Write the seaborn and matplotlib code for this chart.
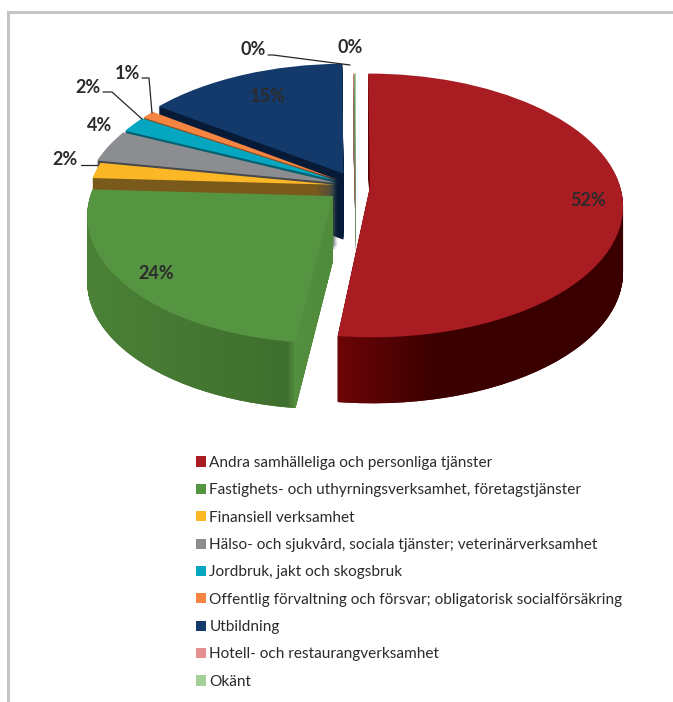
import matplotlib
matplotlib.use('Agg')
import matplotlib.pyplot as plt
from matplotlib.colors import LinearSegmentedColormap
from matplotlib.path import Path
from matplotlib.transforms import IdentityTransform, Transform
import numpy as np
import seaborn as sns

labels = ['Andra samhälleliga och personliga tjänster',
          'Fastighets- och uthyrningsverksamhet, företagstjänster',
          'Finansiell verksamhet',
          'Hälso- och sjukvård, sociala tjänster; veterinärverksamhet',
          'Jordbruk, jakt och skogsbruk',
          'Offentlig förvaltning och försvar; obligatorisk socialförsäkring',
          'Utbildning',
          'Hotell- och restaurangverksamhet',
          'Okänt']
shares = [52, 24, 2, 4, 2, 1, 15, 0.1, 0.1]
colors = ['#a81c22', '#559440', '#fbb726', '#8c8d90', '#05a6bf', '#f58540', '#143a6b', '#e59090', '#a5cf98']
side_colors = ['#5e0408', '#47792f', '#7a5a1a', '#4a4a4c', '#036070', '#8a4a20', '#071b38', '#9a6060', '#70906a']
explode = [0.056, 0.12, 0.085, 0.085, 0.085, 0.085, 0.11, 0.0, 0.0]
radii = [1, 0.96, 0.98, 1, 1, 1, 1, 1, 1]
draw_order = [7, 8, 6, 5, 4, 3, 2, 1, 0]  # back to front

# percent labels: text, x, y in picture pixels
pct_labels = [('52%', 588, 201), ('24%', 156, 274), ('2%', 65, 160), ('4%', 100, 126),
              ('2%', 88, 88), ('1%', 127, 74), ('15%', 268, 97), ('0%', 253, 50), ('0%', 350, 48)]
leaders = [([81, 97], [165, 165]),
           ([103, 112, 142], [92, 92, 119]),
           ([142, 149, 152], [78, 78, 113]),
           ([268, 273, 350], [55, 55, 65])]

# wall shading of the two big slices: wedge index, x range, colour stops
wall_shades = [(0, (330, 625), [(0, '#700508'), (0.35, '#3c0000'), (1, '#3a0000')]),
               (1, (80, 340), [(0, '#4c8238'), (0.8, '#3f6f2e'), (0.83, '#558f40'), (1, '#4f8a3b')])]

depth = 66


class TiltedPie(Transform):
    """Unit pie to picture pixels, back of the pie smaller than the front."""
    input_dims = 2
    output_dims = 2

    def __init__(self, drop=0):
        super().__init__()
        self.drop = drop

    def transform_non_affine(self, xy):
        xy = np.asarray(xy, dtype=float)
        w = 1 + 0.144 * xy[:, 1]
        return np.column_stack([356 + 250 * xy[:, 0] / w,
                                186 - 129 * xy[:, 1] / w + self.drop])


sns.set_style('white')
plt.rcParams['font.family'] = ['Lato', 'DejaVu Sans']

fig = plt.figure(figsize=(6.73, 7.02), dpi=100)
ax = fig.add_axes([8 / 673, 0, 665 / 673, 690 / 702])

legend_wedges = None
layers = {i: [] for i in range(len(shares))}
for d in range(depth, -1, -1):
    wedges, _ = ax.pie(shares, explode=explode, startangle=90, counterclock=False, radius=1,
                       colors=sns.color_palette(colors if d == 0 else side_colors),
                       wedgeprops={'linewidth': 0})
    for i, w in enumerate(wedges):
        w.set_radius(radii[i])
        w.set_transform(TiltedPie(d) + ax.transData)
        w.set_zorder(1 + draw_order.index(i) * 100 + (depth - d))
        layers[i].append(w)
    if d == 0:
        legend_wedges = wedges

shade_images = []
for i, (x0, x1), stops in wall_shades:
    cmap = LinearSegmentedColormap.from_list('wall', stops)
    im = ax.imshow(np.linspace(0, 1, 300)[None, :], cmap=cmap, extent=(x0, x1, 420, 170), aspect='auto',
                   interpolation='bilinear', zorder=1 + draw_order.index(i) * 100 + depth - 0.5)
    shade_images.append((i, im))

ax.set_aspect('auto')
ax.set_xlim(8, 673)
ax.set_ylim(702, 12)
ax.set_frame_on(True)
sns.despine(ax=ax, top=False, right=True, bottom=True)
for side in ['top', 'left']:
    ax.spines[side].set_color('#c4c4c4')
    ax.spines[side].set_linewidth(2.2)

# clip the shading to the slice's stacked layers
for i, im in shade_images:
    outlines = [w.get_transform().transform_path(w.get_path()) for w in layers[i][:-1]]
    im.set_clip_path(Path.make_compound_path(*outlines), IdentityTransform())

for xs, ys in leaders:
    ax.plot(xs, ys, color='#262626', lw=0.9, zorder=2000)
for text, x, y in pct_labels:
    ax.text(x, y, text, ha='center', va='center', fontsize=13, fontweight='bold',
            color='#2b2b2b', zorder=2001)

ax.legend(legend_wedges, labels, loc='upper left', bbox_to_anchor=(0.283, 0.3565), frameon=False,
          fontsize=11.1, labelcolor='#2b2b2b', handlelength=0.65, handleheight=0.65,
          handletextpad=0.2, labelspacing=0.866, borderpad=0, borderaxespad=0)

fig.savefig('out.png', dpi=100)
